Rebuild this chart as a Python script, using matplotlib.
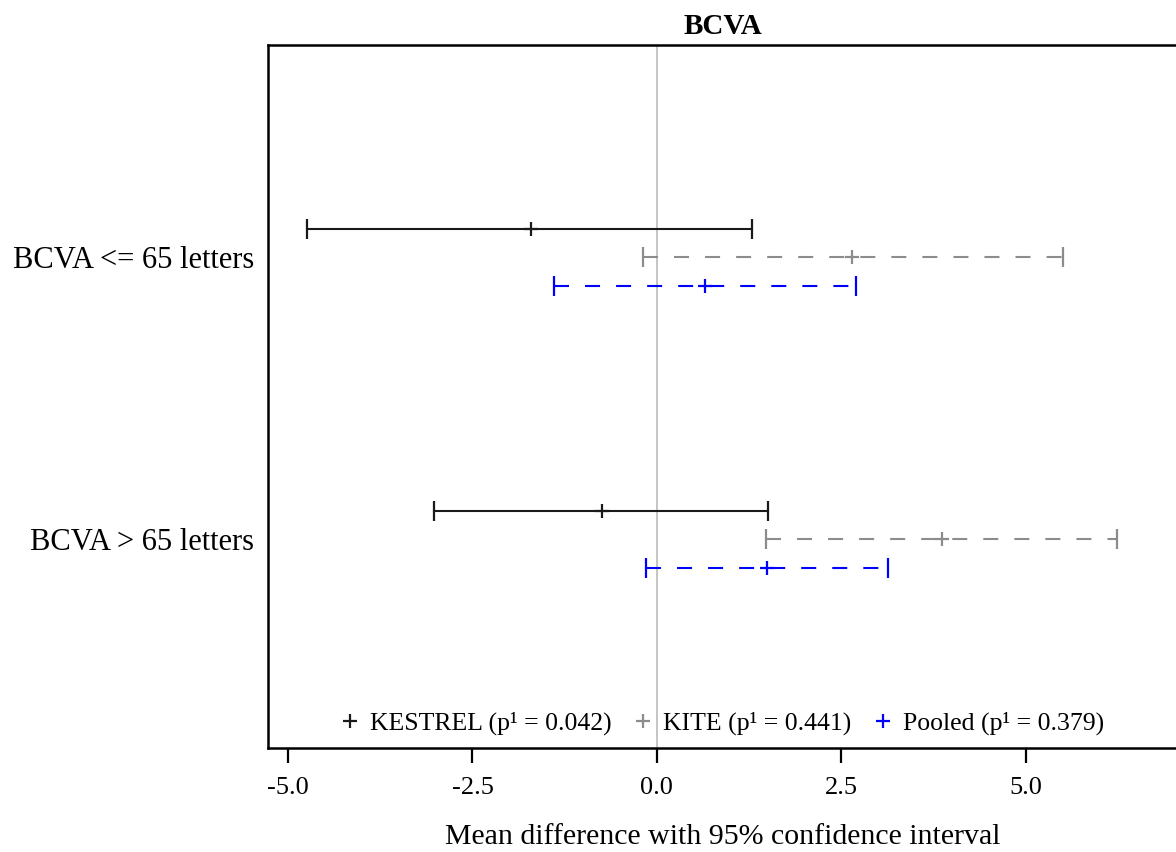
import matplotlib
matplotlib.use("Agg")
import matplotlib.pyplot as plt
from matplotlib.lines import Line2D

plt.rcParams['font.family'] = ['Liberation Serif', 'DejaVu Serif']

categories = ["BCVA <= 65 letters", "BCVA > 65 letters"]
studies = ["KESTREL", "KITE", "Pooled"]
legend_labels = ["KESTREL (p\u00b9 = 0.042)", "KITE (p\u00b9 = 0.441)", "Pooled (p\u00b9 = 0.379)"]
means = {
    "KESTREL": [-1.71, -0.75],
    "KITE": [2.64, 3.86],
    "Pooled": [0.65, 1.49],
}
lower = {
    "KESTREL": [-4.74, -3.02],
    "KITE": [-0.19, 1.48],
    "Pooled": [-1.40, -0.15],
}
upper = {
    "KESTREL": [1.29, 1.51],
    "KITE": [5.50, 6.24],
    "Pooled": [2.70, 3.13],
}
xticks = [-5.0, -2.5, 0.0, 2.5, 5.0]

colors = {"KESTREL": "#1a1a1a", "KITE": "#8c8c8c", "Pooled": "#0000ff"}
offsets = {"KESTREL": -0.1, "KITE": 0.0, "Pooled": 0.102}
dashed = {"KESTREL": False, "KITE": True, "Pooled": True}

fig = plt.figure(figsize=(11.76, 8.52), dpi=100)
ax = fig.add_axes([268/1176, 1-748/852, 1 - 268/1176 + 0.002, (748-45)/852])

ax.axvline(0, color="#c0c0c0", lw=1.3, zorder=0)

for s in studies:
    for i in range(len(categories)):
        y = i + offsets[s]
        m = means[s][i]
        lo = lower[s][i]
        hi = upper[s][i]
        ls = (0, (7.2, 7.7)) if dashed[s] else "-"
        ax.plot([lo, hi], [y, y], color=colors[s], lw=1.5, linestyle=ls, zorder=2)
        ax.plot([lo, hi], [y, y], linestyle="none", marker="|", markersize=14.5,
                markeredgewidth=1.6, color=colors[s], zorder=3)
        ax.plot([m], [y], linestyle="none", marker="+", markersize=9.5,
                markeredgewidth=1.6, color=colors[s], zorder=3)

ax.set_xlim(-5.2717, 7.07)
ax.set_ylim(1.741, -0.752)
ax.set_yticks(range(len(categories)))
ax.set_yticklabels(categories, fontsize=22)
ax.tick_params(axis="y", length=0, pad=10)
ax.set_xticks(xticks)
ax.set_xticklabels([f"{v:.1f}" for v in xticks], fontsize=19)
ax.tick_params(axis="x", length=11, width=1.6, pad=10)

for sp in ["left", "bottom", "top"]:
    ax.spines[sp].set_linewidth(1.8)
ax.spines["right"].set_visible(False)

ax.set_xlabel("Mean difference with 95% confidence interval", fontsize=21.5, labelpad=18)
ax.set_title("BCVA", fontsize=21, fontweight="bold", pad=8)

handles = [Line2D([], [], linestyle="none", marker="+", markersize=9.5,
                  markeredgewidth=1.6, color=colors[s]) for s in studies]
ax.legend(handles, legend_labels, loc="lower center", bbox_to_anchor=(0.5, 0.0),
          ncol=3, frameon=False, fontsize=18.5, handlelength=0.6, handletextpad=0.5,
          columnspacing=0.9, borderaxespad=0.1)

fig.savefig("out.png", dpi=100)
